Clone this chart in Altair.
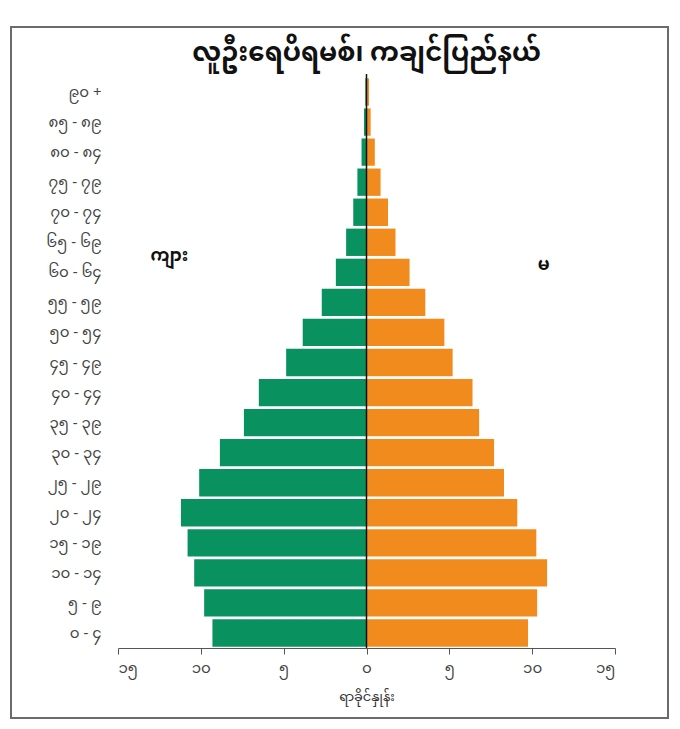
import altair as alt
import pandas as pd

# Age groups, bottom (youngest) to top (oldest)
ages = ["၀ - ၄", "၅ - ၉", "၁၀ - ၁၄", "၁၅ - ၁၉", "၂၀ - ၂၄", "၂၅ - ၂၉", "၃၀ - ၃၄",
        "၃၅ - ၃၉", "၄၀ - ၄၄", "၄၅ - ၄၉", "၅၀ - ၅၄", "၅၅ - ၅၉", "၆၀ - ၆၄",
        "၆၅ - ၆၉", "၇၀ - ၇၄", "၇၅ - ၇၉", "၈၀ - ၈၄", "၈၅ - ၈၉", "၉၀ +"]
male = [9.3, 9.8, 10.4, 10.8, 11.2, 10.1, 8.85, 7.4, 6.5, 4.85, 3.85, 2.7,
        1.85, 1.23, 0.8, 0.55, 0.3, 0.15, 0.07]
female = [9.75, 10.3, 10.9, 10.25, 9.1, 8.3, 7.7, 6.8, 6.4, 5.2, 4.7, 3.55,
          2.6, 1.75, 1.3, 0.85, 0.5, 0.25, 0.15]

sex_names = ["ကျား", "မ"]
colors = ["#0a9160", "#f28b1e"]

tick_values = [-15, -10, -5, 0, 5, 10, 15]
tick_labels = ["၁၅", "၁၀", "၅", "၀", "၅", "၁၀", "၁၅"]

title_text = "လူဦးရေပိရမစ်၊ ကချင်ပြည်နယ်"
x_title = "ရာခိုင်နှုန်း"

FONT = "Noto Sans Myanmar, Padauk, Myanmar Text, Noto Sans, sans-serif"

rows = []
for a, m, f in zip(ages, male, female):
    rows.append({"age": a, "sex": sex_names[0], "value": -m})
    rows.append({"age": a, "sex": sex_names[1], "value": f})
df = pd.DataFrame(rows)

order = list(reversed(ages))

label_expr = "[" + ",".join("'%s'" % t for t in tick_labels) + "][indexof([" + \
    ",".join(str(v) for v in tick_values) + "], datum.value)]"

xscale = alt.Scale(domain=[-15, 15], nice=False, zero=False)
yscale = alt.Scale(domain=order, paddingInner=0.09, paddingOuter=0.045)

frame = alt.Chart(pd.DataFrame({"a": [0]})).mark_rect(
    filled=False, stroke="#6b6b6b", strokeWidth=2
).encode(
    x=alt.value(-107), x2=alt.value(550), y=alt.value(-50), y2=alt.value(641)
)

bars = alt.Chart(df).mark_bar().encode(
    x=alt.X("value:Q", scale=xscale,
            axis=alt.Axis(values=tick_values, labelExpr=label_expr, title=x_title,
                          grid=False, domainColor="#555", tickColor="#555",
                          tickSize=6, labelFontSize=15, labelColor="#444",
                          labelPadding=6, titleFontSize=13, titleFontWeight="normal",
                          titleColor="#333", titlePadding=15, labelFont=FONT,
                          titleFont=FONT)),
    y=alt.Y("age:N", scale=yscale, sort=order,
            axis=alt.Axis(title=None, domain=False, ticks=False, labelPadding=17,
                          labelFontSize=15, labelColor="#444", labelFont=FONT,
                          orient="left")),
    color=alt.Color("sex:N", scale=alt.Scale(domain=sex_names, range=colors), legend=None),
)

zero = alt.Chart(pd.DataFrame({"a": [0]})).mark_rule(color="#111", strokeWidth=1.5).encode(
    x=alt.datum(0, scale=xscale),
    y=alt.value(-3), y2=alt.value(571),
)

male_lbl = alt.Chart(pd.DataFrame({"x": [-11.9], "age": ["၆၀ - ၆၄"], "label": [sex_names[0]]})).mark_text(
    fontSize=17, fontWeight="bold", font=FONT, color="#111", dy=-16
).encode(
    x=alt.X("x:Q", scale=xscale),
    y=alt.Y("age:N", scale=yscale, sort=order),
    text="label:N",
)
female_lbl = alt.Chart(pd.DataFrame({"x": [10.7], "age": ["၆၀ - ၆၄"], "label": [sex_names[1]]})).mark_text(
    fontSize=17, fontWeight="bold", font=FONT, color="#111", dy=-7
).encode(
    x=alt.X("x:Q", scale=xscale),
    y=alt.Y("age:N", scale=yscale, sort=order),
    text="label:N",
)

chart = alt.layer(frame, bars, zero, male_lbl, female_lbl).properties(
    width=497, height=571,
    title=alt.TitleParams(title_text, fontSize=26, fontWeight="bold", anchor="middle",
                          font=FONT, color="#111", offset=12, frame="group", dy=52),
    padding={"left": 110, "top": 69, "right": 57, "bottom": 73},
    autosize=alt.AutoSizeParams(type="none"),
    background="white",
).configure_view(stroke=None)

chart.save("out.html", embed_options={"renderer": "svg", "actions": False})
